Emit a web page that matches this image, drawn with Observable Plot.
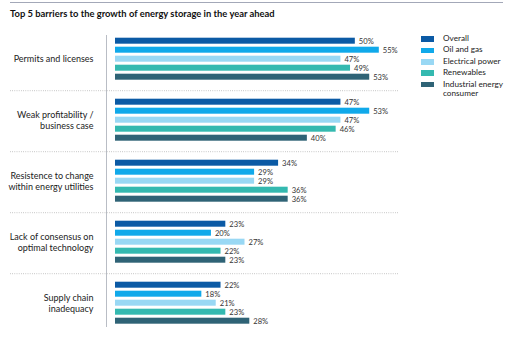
<!DOCTYPE html>
<html>
<head>
<meta charset="utf-8">
<script src="https://cdn.jsdelivr.net/npm/d3@7"></script>
<script src="https://cdn.jsdelivr.net/npm/@observablehq/plot@0.6"></script>
<style>
  html, body { margin: 0; padding: 0; background: #fff; }
  body { width: 525px; height: 339px; overflow: hidden; font-family: Lato, "Open Sans", sans-serif; color: #222; }
  #wrap { position: relative; width: 525px; height: 339px; }
  #header { position: relative; height: 24px; }
  #rule { position: absolute; left: 10px; top: 2px; width: 493px; height: 1px; background: #a3a8b8; }
  #title { position: absolute; left: 10px; top: 8px; font-size: 9.4px; font-weight: 700; color: #111; white-space: nowrap; }
  #legend { position: absolute; left: 421px; top: 34px; font-size: 8.2px; color: #222; }
  .item { display: flex; align-items: flex-start; height: 11.4px; }
  .sw { width: 13px; height: 5.5px; margin-top: 2.3px; margin-right: 9px; flex: none; }
  .lab { line-height: 9.6px; }
  svg { display: block; }
</style>
</head>
<body>
<div id="wrap">
  <div id="header"><div id="rule"></div><div id="title">Top 5 barriers to the growth of energy storage in the year ahead</div></div>
  <div id="chart"></div>
  <div id="legend"></div>
</div>
<script>
const categories = [
  "Permits and licenses",
  "Weak profitability /\nbusiness case",
  "Resistence to change\nwithin energy utilities",
  "Lack of consensus on\noptimal technology",
  "Supply chain\ninadequacy"
];
const series = ["Overall", "Oil and gas", "Electrical power", "Renewables", "Industrial energy consumer"];
const legendLabels = ["Overall", "Oil and gas", "Electrical power", "Renewables", "Industrial energy<br>consumer"];
const colors = ["#0b5aa5", "#10a9ea", "#99d8f4", "#34b9b0", "#2f6376"];

const permits = [50, 55, 47, 49, 53];
const profitability = [47, 53, 47, 46, 40];
const resistance = [34, 29, 29, 36, 36];
const consensus = [23, 20, 27, 22, 23];
const supplyChain = [22, 18, 21, 23, 28];
const valuesByCategory = [permits, profitability, resistance, consensus, supplyChain];

const data = [];
categories.forEach((c, i) => series.forEach((s, j) => data.push({category: c, series: s, value: valuesByCategory[i][j]})));

const separators = data.filter(d => d.series === series[0] && d.category !== categories[0]);

const chart = Plot.plot({
  width: 525,
  height: 315,
  marginTop: 10.3,
  marginBottom: 11.4,
  marginLeft: 106,
  marginRight: 127,
  style: {fontFamily: "Lato, 'Open Sans', sans-serif", background: "#fff"},
  x: {domain: [0, 59], insetLeft: 9, axis: null},
  y: {domain: series, paddingInner: 0.3, paddingOuter: 0.15, axis: null},
  fy: {domain: categories, paddingInner: 0.222, paddingOuter: 0, label: null},
  color: {domain: series, range: colors},
  marks: [
    Plot.frame({anchor: "left", facet: "super", stroke: "#b9bdc5", strokeWidth: 1}),
    Plot.ruleY(separators, {y: "series", fy: "category", dy: -11.5, insetLeft: -96, stroke: "#a8a8a8", strokeWidth: 0.8, strokeDasharray: "0.8,1.4"}),
    Plot.barX(data, {x: "value", y: "series", fy: "category", fill: "series"}),
    Plot.text(data, {x: "value", y: "series", fy: "category", text: d => d.value + "%", dx: 3.5, textAnchor: "start", fontSize: 7.6, fill: "#333"}),
    Plot.axisFy({anchor: "left", tickSize: 0, tickPadding: 13, fontSize: 9, label: null, color: "#222", lineHeight: 1.15})
  ]
});
document.getElementById("chart").appendChild(chart);

const legend = document.getElementById("legend");
series.forEach((s, i) => {
  const item = document.createElement("div");
  item.className = "item";
  item.innerHTML = `<div class="sw" style="background:${colors[i]}"></div><div class="lab">${legendLabels[i]}</div>`;
  legend.appendChild(item);
});
</script>
</body>
</html>
